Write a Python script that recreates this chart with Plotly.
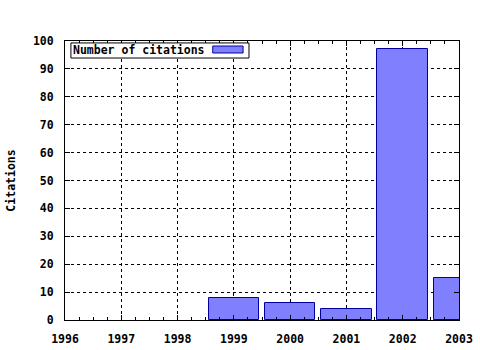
import plotly.graph_objects as go

years = [1996, 1997, 1998, 1999, 2000, 2001, 2002, 2003]
citations = [0, 0, 0, 8, 6, 4, 97, 15]
series_name = "Number of citations"
y_title = "Citations"

FONT = dict(family="DejaVu Sans Mono", size=11.5, color="black", weight="bold")

# zero-valued years produce no visible bar
plot_x = [x for x, v in zip(years, citations) if v > 0]
plot_y = [v for v in citations if v > 0]

fig = go.Figure()
fig.add_trace(go.Bar(
    x=plot_x, y=plot_y, width=0.9, name=series_name,
    marker=dict(color="#8080ff", line=dict(color="#0000a0", width=1)),
    showlegend=False,
))

axis_common = dict(
    showline=True, linecolor="black", linewidth=1, mirror="allticks",
    ticks="inside", ticklen=5, tickcolor="black",
    showgrid=True, gridcolor="black", gridwidth=1, griddash="3px,3px",
    zeroline=False, tickfont=FONT, automargin=False,
)

fig.update_xaxes(range=[1996, 2003], dtick=1, tick0=1996, ticklabelstandoff=8,
                 minor=dict(dtick=0.25, ticks="inside", ticklen=3, tickcolor="black", showgrid=False),
                 **axis_common)
fig.update_yaxes(range=[0, 100], dtick=10, ticklabelstandoff=8,
                 title=dict(text=y_title, font=FONT, standoff=14),
                 **axis_common)

# custom legend box (swatch on right, as in reference)
fig.add_shape(type="rect", xref="paper", yref="paper", x0=0.015, x1=0.467, y0=0.939, y1=0.993,
              line=dict(color="black", width=1), fillcolor="white", layer="above")
fig.add_shape(type="rect", xref="paper", yref="paper", x0=0.375, x1=0.452, y0=0.957, y1=0.982,
              line=dict(color="#0000a0", width=1), fillcolor="#8080ff", layer="above")
fig.add_annotation(text=series_name, xref="paper", yref="paper", x=0.016, y=0.966,
                   xanchor="left", yanchor="middle", showarrow=False, font=FONT)

fig.update_layout(
    width=480, height=350,
    margin=dict(l=65, r=21, t=41, b=30),
    paper_bgcolor="white", plot_bgcolor="white",
    bargap=0,
)

fig.write_html("out.html")
